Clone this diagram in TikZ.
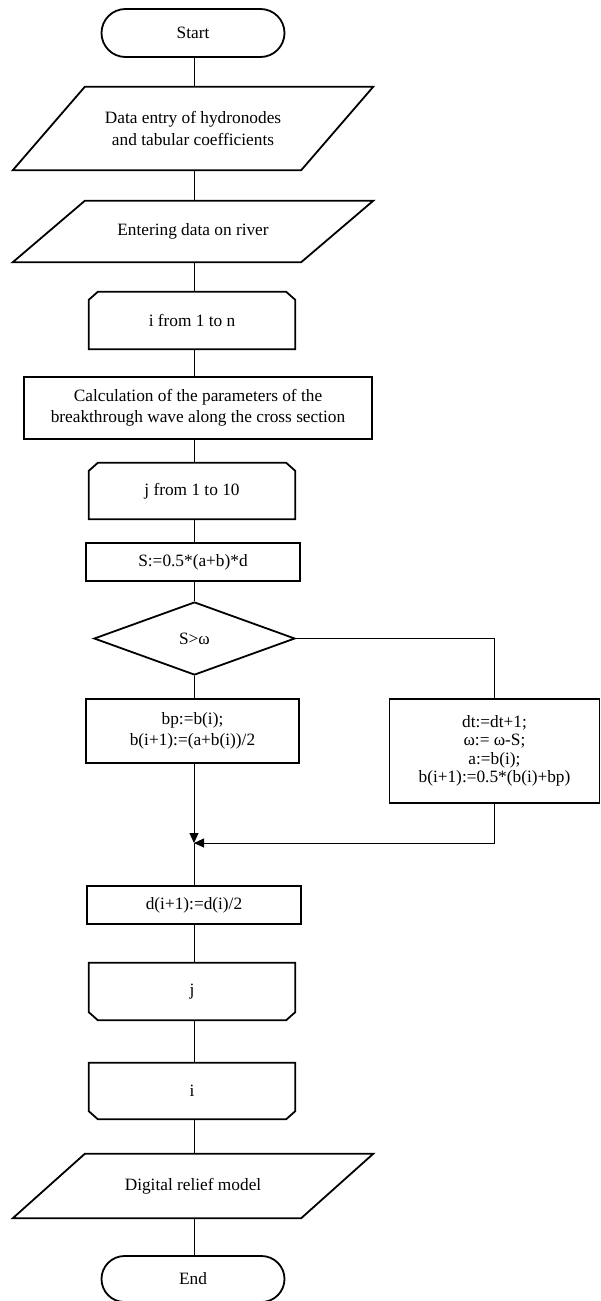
\documentclass[tikz,border=0pt]{standalone}
\usepackage{fontspec}
\setmainfont{Liberation Serif}
\usetikzlibrary{arrows.meta,calc,shapes.geometric}
\begin{document}
\begin{tikzpicture}[x=1pt,y=-1pt,
  base/.style={inner sep=0pt, align=center, font=\fontsize{17.3}{21.5}\selectfont},
  outline/.style={line width=1.8pt},
  conn/.style={line width=0.9pt},
  arr/.style={conn, -{Triangle[length=10pt,width=9pt]}}]
\useasboundingbox (0,0) rectangle (601,1301);
\coordinate (ax) at (194,0);
% nodes
\node[base, draw, outline, rounded corners=24pt, minimum width=183pt, minimum height=48pt] (start) at (193,33) {Start};
\node[base, minimum width=360pt, minimum height=83pt] (in1) at (193,128.5) {Data entry of hydronodes\\and tabular coefficients};
\node[base, minimum width=360pt, minimum height=61pt] (in2) at (193,231.5) {Entering data on river};
\node[base, minimum width=206pt, minimum height=57pt] (li) at (192,320.5) {i from 1 to n};
\node[base, draw, outline, minimum width=348pt, minimum height=62pt] (calc) at (198,408) {Calculation of the parameters of the\\breakthrough wave along the cross section};
\node[base, minimum width=206pt, minimum height=56pt] (lj) at (192,491) {j from 1 to 10};
\node[base, draw, outline, minimum width=214pt, minimum height=38pt] (s) at (193,562) {S:=0.5*(a+b)*d};
\node[base, draw, outline, diamond, minimum width=201pt, minimum height=73pt] (dec) at (194.5,638.5) {S>ω};
\node[base, draw, outline, minimum width=213pt, minimum height=64pt] (bp) at (192.5,731) {bp:=b(i);\\b(i+1):=(a+b(i))/2};
\node[base, draw, outline, minimum width=210pt, minimum height=104pt, font=\fontsize{17.3}{18.5}\selectfont] (rb) at (494.5,751) {dt:=dt+1;\\ω:= ω-S;\\a:=b(i);\\b(i+1):=0.5*(b(i)+bp)};
\coordinate (m) at (194,843);
\node[base, draw, outline, minimum width=214pt, minimum height=38pt] (d) at (194,905) {d(i+1):=d(i)/2};
\node[base, minimum width=206pt, minimum height=57pt] (ej) at (192,991.5) {j};
\node[base, minimum width=206pt, minimum height=56pt] (ei) at (192,1091) {i};
\node[base, minimum width=360pt, minimum height=64pt] (out) at (193,1186) {Digital relief model};
\node[base, draw, outline, rounded corners=23pt, minimum width=183pt, minimum height=46pt] (end) at (193,1279) {End};
% outlines of special shapes
\foreach \n in {in1,in2,out}{
  \draw[outline] ($(\n.north west)+(72,0)$) -- (\n.north east) -- ($(\n.south east)-(72,0)$) -- (\n.south west) -- cycle;
}
\foreach \n in {li,lj}{
  \draw[outline] (\n.south west) -- ($(\n.north west)+(0,8)$) -- ($(\n.north west)+(9,0)$) -- ($(\n.north east)-(9,0)$) -- ($(\n.north east)+(0,8)$) -- (\n.south east) -- cycle;
}
\foreach \n in {ej,ei}{
  \draw[outline] (\n.north west) -- (\n.north east) -- ($(\n.south east)-(0,8)$) -- ($(\n.south east)-(9,0)$) -- ($(\n.south west)+(9,0)$) -- ($(\n.south west)-(0,8)$) -- cycle;
}
% connectors
\draw[conn] (start.south -| ax) -- (in1.north -| ax);
\draw[conn] (in1.south -| ax) -- (in2.north -| ax);
\draw[conn] (in2.south -| ax) -- (li.north -| ax);
\draw[conn] (li.south -| ax) -- (calc.north -| ax);
\draw[conn] (calc.south -| ax) -- (lj.north -| ax);
\draw[conn] (lj.south -| ax) -- (s.north -| ax);
\draw[conn] (s.south -| ax) -- (dec.north -| ax);
\draw[conn] (dec.south -| ax) -- (bp.north -| ax);
\draw[conn] (dec.east) -- (dec.east -| rb.north) -- (rb.north);
\draw[arr] (bp.south -| ax) -- (m);
\draw[arr] (rb.south) -- (rb.south |- m) -- (m);
\draw[conn] (m) -- (d.north -| ax);
\draw[conn] (d.south -| ax) -- (ej.north -| ax);
\draw[conn] (ej.south -| ax) -- (ei.north -| ax);
\draw[conn] (ei.south -| ax) -- (out.north -| ax);
\draw[conn] (out.south -| ax) -- (end.north -| ax);
\end{tikzpicture}
\end{document}
